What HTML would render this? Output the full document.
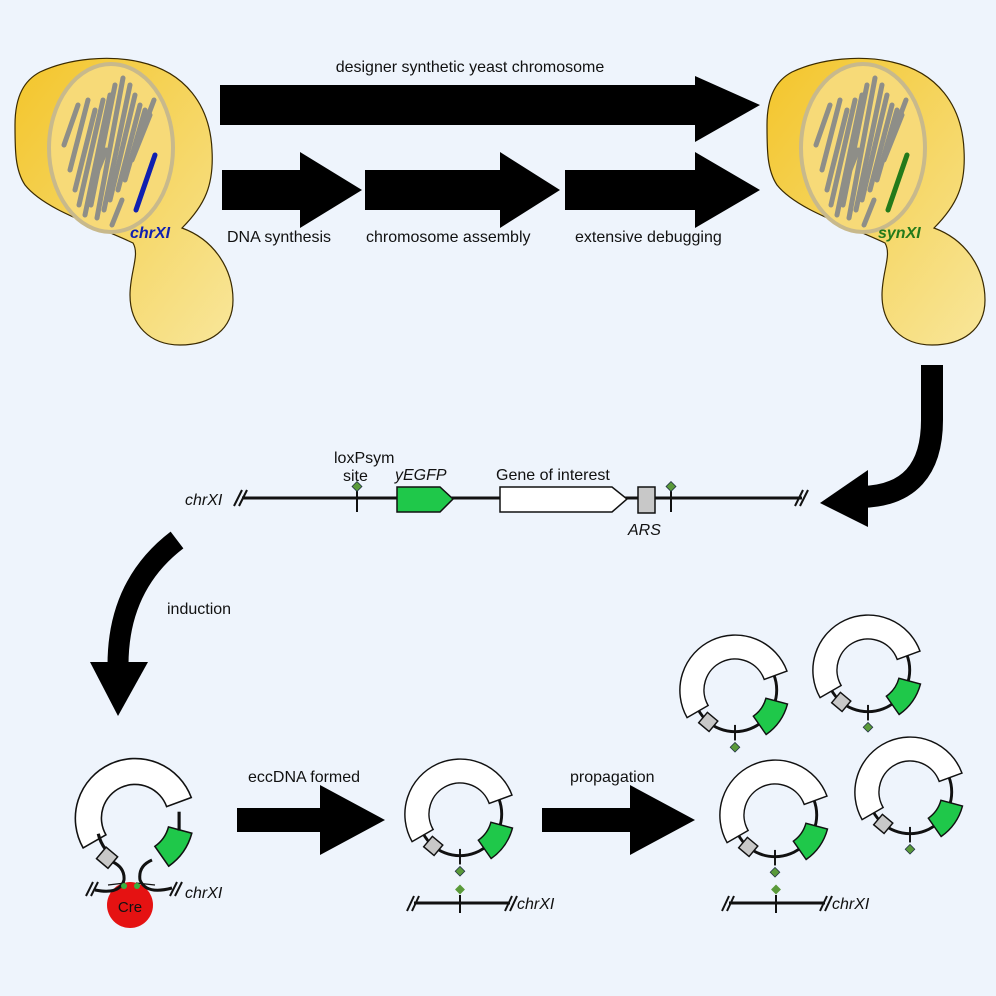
<!DOCTYPE html>
<html><head><meta charset="utf-8"><style>
html,body{margin:0;padding:0;background:#eef4fc}
svg{display:block}
text{font-family:"Liberation Sans",Arial,sans-serif;fill:#111}
</style></head><body>
<svg width="996" height="996" viewBox="0 0 996 996" xmlns="http://www.w3.org/2000/svg">
<defs>
<linearGradient id="yg" x1="0" y1="0" x2="1" y2="1">
<stop offset="0" stop-color="#f3c52a"/><stop offset="1" stop-color="#f8e69a"/></linearGradient>
<g id="cell">
<path d="M15,125 C15,95 25,80 40,72 C70,58 110,55 140,62 C185,72 210,105 212,150 C214,185 205,205 182,228 C215,240 233,270 233,300 C233,330 210,345 180,345 C150,345 130,325 130,295 C130,272 140,255 133,243 C95,225 45,210 25,185 C15,170 15,150 15,125 Z" fill="url(#yg)" stroke="#3a2a00" stroke-width="1.2"/>
<ellipse cx="111" cy="148" rx="62" ry="84" fill="#f7da78" stroke="#c8b98c" stroke-width="4"/>
<g stroke="#8e8e88" stroke-width="5" stroke-linecap="round">
<line x1="64" y1="145" x2="78" y2="105"/>
<line x1="70" y1="170" x2="88" y2="100"/>
<line x1="75" y1="190" x2="95" y2="110"/>
<line x1="79" y1="205" x2="103" y2="100"/>
<line x1="85" y1="215" x2="110" y2="95"/>
<line x1="91" y1="205" x2="115" y2="85"/>
<line x1="97" y1="218" x2="123" y2="78"/>
<line x1="104" y1="210" x2="130" y2="85"/>
<line x1="110" y1="200" x2="135" y2="95"/>
<line x1="112" y1="225" x2="122" y2="200"/>
<line x1="118" y1="190" x2="140" y2="105"/>
<line x1="125" y1="180" x2="145" y2="110"/>
<line x1="132" y1="160" x2="150" y2="115"/>
<line x1="137" y1="145" x2="154" y2="100"/>
<line x1="98" y1="170" x2="106" y2="150"/>
</g>
</g>
<g id="pl">
<circle cx="0" cy="0" r="43" fill="none" stroke="#111" stroke-width="3"/>
<path d="M-49.4,28.5 A57,57 0 1 1 53.6,-19.5 L30.1,-10.9 A32,32 0 1 0 -27.7,16 Z" fill="#fff" stroke="#111" stroke-width="1.5"/>
<path d="M54.1,14.5 A56,56 0 0 1 32.1,45.9 L18.9,27 A33,33 0 0 0 31.9,8.5 Z" fill="#1fc84a" stroke="#111" stroke-width="1.5"/>
<rect x="-7" y="-7" width="14" height="14" fill="#c8c8c8" stroke="#111" stroke-width="1.5" transform="translate(-27.6,32.9) rotate(40)"/>
</g>
<g id="lox">
<line x1="0" y1="36" x2="0" y2="52" stroke="#111" stroke-width="2"/>
<rect x="-3.5" y="-3.5" width="7" height="7" fill="#5a9a3a" stroke="#234" stroke-width="0.8" transform="translate(0,59) rotate(45)"/>
</g>
</defs>

<use href="#cell"/>
<line x1="155" y1="155" x2="136" y2="210" stroke="#1020b0" stroke-width="5" stroke-linecap="round"/>
<text x="130" y="238" font-size="16" font-weight="bold" font-style="italic" style="fill:#1020b0">chrXI</text>
<g transform="translate(752,0)"><use href="#cell"/></g>
<line x1="907" y1="155" x2="888" y2="210" stroke="#237a1a" stroke-width="5" stroke-linecap="round"/>
<text x="878" y="238" font-size="16" font-weight="bold" font-style="italic" style="fill:#237a1a">synXI</text>

<polygon points="220,85 695,85 695,76 760,105 695,142 695,125 220,125" fill="#000"/>
<text x="470" y="72" font-size="16" text-anchor="middle">designer synthetic yeast chromosome</text>
<polygon points="222,170 300,170 300,152 362,190 300,228 300,210 222,210" fill="#000"/>
<polygon points="365,170 500,170 500,152 560,190 500,228 500,210 365,210" fill="#000"/>
<polygon points="565,170 695,170 695,152 760,190 695,228 695,210 565,210" fill="#000"/>
<text x="227" y="242" font-size="16">DNA synthesis</text>
<text x="366" y="242" font-size="16">chromosome assembly</text>
<text x="575" y="242" font-size="16">extensive debugging</text>

<path d="M932,365 L932,420 Q932,495 862,497" fill="none" stroke="#000" stroke-width="22"/>
<polygon points="868,470 820,503 868,527" fill="#000"/>
<path d="M177,540 Q118,585 118,665" fill="none" stroke="#000" stroke-width="21"/>
<polygon points="90,662 148,662 118,716" fill="#000"/>
<text x="167" y="614" font-size="16">induction</text>

<line x1="242" y1="498" x2="802" y2="498" stroke="#111" stroke-width="3"/>
<g stroke="#111" stroke-width="2"><line x1="234" y1="506" x2="242" y2="490"/><line x1="239" y1="506" x2="247" y2="490"/>
<line x1="795" y1="506" x2="803" y2="490"/><line x1="800" y1="506" x2="808" y2="490"/></g>
<text x="185" y="505" font-size="16" font-style="italic">chrXI</text>
<line x1="357" y1="488" x2="357" y2="512" stroke="#111" stroke-width="2"/>
<rect x="353.5" y="483" width="7" height="7" fill="#5a9a3a" stroke="#234" stroke-width="0.8" transform="rotate(45 357 486.5)"/>
<polygon points="397,487 440,487 453,499 440,512 397,512" fill="#1fc84a" stroke="#111" stroke-width="1.5"/>
<polygon points="500,487 612,487 627,499 612,512 500,512" fill="#fff" stroke="#111" stroke-width="1.5"/>
<rect x="638" y="487" width="17" height="26" fill="#c8c8c8" stroke="#111" stroke-width="1.5"/>
<line x1="671" y1="488" x2="671" y2="512" stroke="#111" stroke-width="2"/>
<rect x="667.5" y="483" width="7" height="7" fill="#5a9a3a" stroke="#234" stroke-width="0.8" transform="rotate(45 671 486.5)"/>
<text x="334" y="463" font-size="16">loxPsym</text>
<text x="343" y="481" font-size="16">site</text>
<text x="395" y="480" font-size="16" font-style="italic">yEGFP</text>
<text x="496" y="480" font-size="16">Gene of interest</text>
<text x="628" y="535" font-size="16" font-style="italic">ARS</text>

<polygon points="237,808 320,808 320,785 385,820 320,855 320,832 237,832" fill="#000"/>
<text x="248" y="782" font-size="16">eccDNA formed</text>
<polygon points="542,808 630,808 630,785 695,820 630,855 630,832 542,832" fill="#000"/>
<text x="570" y="782" font-size="16">propagation</text>

<g transform="translate(135,818) scale(1.05)">
<path d="M-49.4,28.5 A57,57 0 1 1 53.6,-19.5 L30.1,-10.9 A32,32 0 1 0 -27.7,16 Z" fill="#fff" stroke="#111" stroke-width="1.5"/>
<path d="M54.1,14.5 A56,56 0 0 1 32.1,45.9 L18.9,27 A33,33 0 0 0 31.9,8.5 Z" fill="#1fc84a" stroke="#111" stroke-width="1.5"/>
<path d="M-35,15 A40,40 0 0 0 -28,30" fill="none" stroke="#111" stroke-width="3"/>
<path d="M42,-6 L42,12" fill="none" stroke="#111" stroke-width="3"/>
</g>
<circle cx="130" cy="905" r="23" fill="#e51212"/>
<text x="130" y="912" font-size="15" text-anchor="middle">Cre</text>
<g fill="none" stroke="#111" stroke-width="3">
<path d="M113,862 Q125,868 124,880 Q120,895 95,890"/>
<path d="M152,860 Q138,866 140,880 Q146,895 172,888"/>
</g>
<rect x="100" y="850" width="15" height="15" fill="#c8c8c8" stroke="#111" stroke-width="1.5" transform="rotate(40 107 857)"/>
<line x1="108" y1="885" x2="125" y2="883" stroke="#111" stroke-width="1.2"/>
<line x1="136" y1="883" x2="155" y2="885" stroke="#111" stroke-width="1.2"/>
<circle cx="124" cy="886" r="3" fill="#3ab040"/><circle cx="137" cy="886" r="3" fill="#3ab040"/>
<g stroke="#111" stroke-width="2"><line x1="86" y1="896" x2="93" y2="882"/><line x1="91" y1="896" x2="98" y2="882"/>
<line x1="170" y1="896" x2="177" y2="882"/><line x1="175" y1="896" x2="182" y2="882"/></g>
<text x="185" y="898" font-size="16" font-style="italic">chrXI</text>

<g transform="translate(460,814) scale(0.97)"><use href="#pl"/><use href="#lox"/></g>
<g transform="translate(775,815) scale(0.97)"><use href="#pl"/><use href="#lox"/></g>
<g transform="translate(910,792) scale(0.97)"><use href="#pl"/><use href="#lox"/></g>
<g transform="translate(735,690) scale(0.97)"><use href="#pl"/><use href="#lox"/></g>
<g transform="translate(868,670) scale(0.97)"><use href="#pl"/><use href="#lox"/></g>

<g stroke="#111">
<line x1="414" y1="903" x2="510" y2="903" stroke-width="3"/>
<line x1="460" y1="895" x2="460" y2="913" stroke-width="2"/>
<line x1="407" y1="911" x2="414" y2="896" stroke-width="2"/><line x1="412" y1="911" x2="419" y2="896" stroke-width="2"/>
<line x1="505" y1="911" x2="512" y2="896" stroke-width="2"/><line x1="510" y1="911" x2="517" y2="896" stroke-width="2"/>
<line x1="729" y1="903" x2="825" y2="903" stroke-width="3"/>
<line x1="776" y1="895" x2="776" y2="913" stroke-width="2"/>
<line x1="722" y1="911" x2="729" y2="896" stroke-width="2"/><line x1="727" y1="911" x2="734" y2="896" stroke-width="2"/>
<line x1="820" y1="911" x2="827" y2="896" stroke-width="2"/><line x1="825" y1="911" x2="832" y2="896" stroke-width="2"/>
</g>
<rect x="456.5" y="886" width="7" height="7" fill="#5a9a3a" transform="rotate(45 460 889.5)"/>
<rect x="772.5" y="886" width="7" height="7" fill="#5a9a3a" transform="rotate(45 776 889.5)"/>
<text x="517" y="909" font-size="16" font-style="italic">chrXI</text>
<text x="832" y="909" font-size="16" font-style="italic">chrXI</text>
</svg>
</body></html>
